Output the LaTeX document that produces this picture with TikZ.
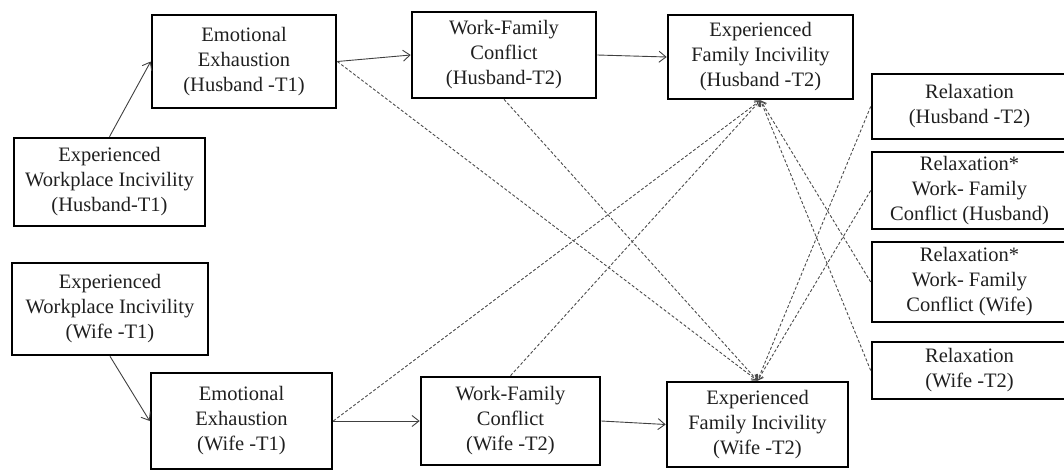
\documentclass[tikz,border=0pt]{standalone}
\usepackage{fontspec}
\setmainfont{Liberation Serif}
\usetikzlibrary{arrows.meta}
\begin{document}
\begin{tikzpicture}[x=1pt,y=-1pt,
  box/.style={draw, line width=2.6pt, align=center, inner sep=0pt, text=black!88,
              font=\fontsize{20.5}{25}\selectfont},
  sol/.style={line width=0.9pt, draw=black!75, -{Straight Barb[length=7pt,width=11pt]}},
  dsh/.style={line width=0.9pt, draw=black!70, dash pattern=on 3pt off 2pt,
              -{Straight Barb[length=5pt,width=7pt]}}]
\useasboundingbox (0,0) rectangle (1064,471);
% left column
\node[box, minimum width=191pt, minimum height=88pt] (ewih) at (109.5,182)
  {Experienced\\Workplace Incivility\\(Husband-T1)};
\node[box, minimum width=196pt, minimum height=92pt] (ewiw) at (110,309)
  {Experienced\\Workplace Incivility\\(Wife -T1)};
% emotional exhaustion
\node[box, minimum width=184pt, minimum height=93pt] (eeh) at (244,61.5)
  {Emotional\\Exhaustion\\(Husband -T1)};
\node[box, minimum width=181pt, minimum height=96pt] (eew) at (241.5,421)
  {Emotional\\Exhaustion\\(Wife -T1)};
% work-family conflict
\node[box, minimum width=184pt, minimum height=86pt] (wfch) at (504,55)
  {Work-Family\\Conflict\\(Husband-T2)};
\node[box, minimum width=179pt, minimum height=88pt] (wfcw) at (510.5,421)
  {Work-Family\\Conflict\\(Wife -T2)};
% family incivility
\node[box, minimum width=185pt, minimum height=84pt] (hfi) at (760.5,57)
  {Experienced\\Family Incivility\\(Husband -T2)};
\node[box, minimum width=181pt, minimum height=85pt] (wfi) at (757.5,424.5)
  {Experienced\\Family Incivility\\(Wife -T2)};
% right column
\node[box, minimum width=195pt, minimum height=65pt] (rh) at (969.5,106.5)
  {Relaxation\\(Husband -T2)};
\node[box, minimum width=195pt, minimum height=77pt] (rwh) at (969.5,190.5)
  {Relaxation*\\Work- Family\\Conflict (Husband)};
\node[box, minimum width=195pt, minimum height=80pt] (rww) at (969.5,282)
  {Relaxation*\\Work- Family\\Conflict (Wife)};
\node[box, minimum width=195pt, minimum height=57pt] (rw) at (969.5,370.5)
  {Relaxation\\(Wife -T2)};
% solid paths
\draw[sol] (ewih.north) -- (eeh.west);
\draw[sol] (ewiw.south) -- (eew.west);
\draw[sol] (eeh.east) -- (wfch.west);
\draw[sol] (wfch.east) -- (hfi.west);
\draw[sol] (eew.east) -- (wfcw.west);
\draw[sol] (wfcw.east) -- (wfi.west);
% dashed paths
\draw[dsh] (eeh.east) -- (wfi.north);
\draw[dsh] (wfch.south) -- (wfi.north);
\draw[dsh] (rh.west) -- (wfi.north);
\draw[dsh] (rwh.west) -- (wfi.north);
\draw[dsh] (eew.east) -- (hfi.south);
\draw[dsh] (wfcw.north) -- (hfi.south);
\draw[dsh] (rww.west) -- (hfi.south);
\draw[dsh] (rw.west) -- (hfi.south);
\end{tikzpicture}
\end{document}
